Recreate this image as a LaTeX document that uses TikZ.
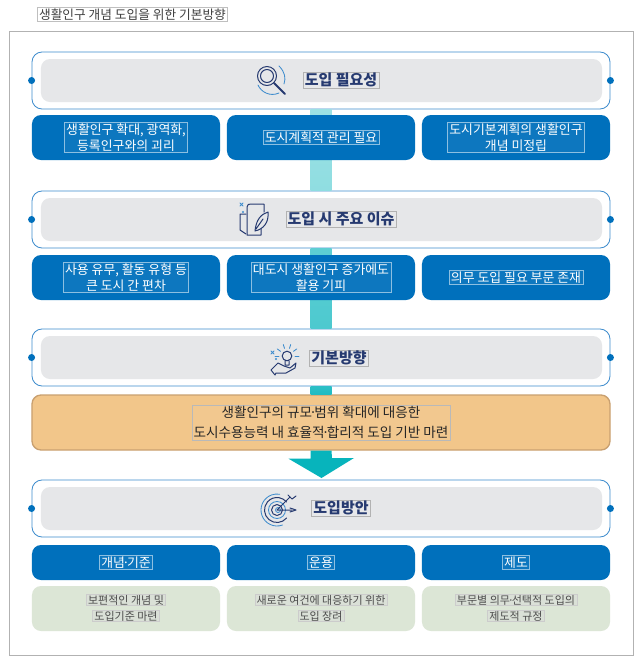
\documentclass[tikz,border=0pt]{standalone}
\usepackage{fontspec}
\setmainfont{Noto Sans CJK KR}
\usetikzlibrary{calc}
\definecolor{hanblue}{RGB}{0,112,188}
\definecolor{hanline}{RGB}{62,140,205}
\definecolor{hangray}{RGB}{230,231,233}
\definecolor{hannavy}{RGB}{38,58,112}
\definecolor{hanorange}{RGB}{242,198,138}
\definecolor{hanedge}{RGB}{201,160,112}
\definecolor{hangreen}{RGB}{220,230,214}
\definecolor{hanteal}{RGB}{7,180,188}
\newcommand{\middot}{\kern-0.2em·\kern-0.2em}
\tikzset{
    framebox/.style={draw=hanline, line width=0.25mm, fill=white, rounded corners=0.3cm,
        minimum width=17.34cm, minimum height=1.71cm, inner sep=0pt},
    headbox/.style={fill=hangray, rounded corners=0.27cm,
        minimum width=16.83cm, minimum height=1.29cm, inner sep=0pt},
    bluebox/.style={fill=hanblue, rounded corners=0.27cm,
        minimum width=5.64cm, minimum height=1.35cm, inner sep=0pt},
    lowbox/.style={bluebox, minimum height=1.05cm},
    greenbox/.style={bluebox, fill=hangreen},
    hl/.style={draw=#1, line width=0.12mm, fill=white, fill opacity=0.05, text opacity=1,
        inner xsep=1.5pt, inner ysep=1pt, align=center},
    headtext/.style={hl=gray!60, text=hannavy, font=\fontsize{12.8}{15}\selectfont\bfseries},
    bluetext/.style={hl=white!55!hanblue, text=white, font=\fontsize{11}{13.6}\selectfont},
    greentext/.style={hl=gray!40, fill=gray!30, fill opacity=0.4, text=black!70,
        inner ysep=0.5pt, font=\fontsize{9.4}{11}\selectfont},
    icon/.style={draw=hannavy, line width=0.3mm, line cap=round, line join=round},
    iconb/.style={draw=hanline, line width=0.25mm, line cap=round},
    dot/.style={circle, fill=hanblue, minimum size=0.21cm, inner sep=0pt},
}

\begin{document}
\begin{tikzpicture}[x=0.03cm, y=-0.03cm]
\useasboundingbox (0,0) rectangle (640,658);
\fill[white] (0,0) rectangle (640,658);
\draw[draw=gray!60, line width=0.3mm] (9.5,31.5) rectangle (633,655);
\node[hl=gray!50, text=black!75, font=\fontsize{10.85}{13}\selectfont] (title) at (132.5,14.5)
    {생활인구 개념 도입을 위한 기본방향};

% frames with their grey bands
\node[framebox] (needframe) at (321,80.5) {};
\node[framebox] (issueframe) at (321,219.5) {};
\node[framebox] (baseframe) at (321,357.5) {};
\node[framebox] (planframe) at (321,508.5) {};
\node[headbox] (need) at (321.5,80.5) {};
\node[headbox] (issue) at (321.5,219.5) {};
\node[headbox] (base) at (321.5,357.5) {};
\node[headbox] (plan) at (321.5,508.5) {};
\foreach \n in {need,issue,base,plan} {
    \node[dot] (\n l) at (\n frame.west) {};
    \node[dot] (\n r) at (\n frame.east) {};
}

% orange band
\node[draw=hanedge, line width=0.4mm, fill=hanorange, rounded corners=0.27cm,
    minimum width=17.34cm, minimum height=1.65cm, inner sep=0pt] (goal) at (321,422.5) {};

% teal bars between the frames
\shade[top color=hanteal!40, bottom color=hanteal!45]
    ($(needframe.south)+(-10.5,0)$) rectangle ($(issueframe.north)+(10.5,0)$);
\shade[top color=hanteal!65, bottom color=hanteal!72]
    ($(issueframe.south)+(-10.5,0)$) rectangle ($(baseframe.north)+(10.5,0)$);
\shade[top color=hanteal!85, bottom color=hanteal!90]
    ($(baseframe.south)+(-10.5,0)$) rectangle ($(goal.north)+(10.5,0)$);
\coordinate (tip) at (321.5,478);
\fill[hanteal] ($(goal.south)+(-10.5,0)$) -- ++(0,8) -- ++(-22,0) -- (tip)
    -- ++(32.5,-20) -- ++(-22,0) -- ($(goal.south)+(10.5,0)$) -- cycle;

% blue and green rows
\node[bluebox] (a1) at (126,137.5) {};
\node[bluebox] (a2) at (321,137.5) {};
\node[bluebox] (a3) at (516,137.5) {};
\node[bluebox] (b1) at (126,277.5) {};
\node[bluebox] (b2) at (321,277.5) {};
\node[bluebox] (b3) at (516,277.5) {};
\node[lowbox] (c1) at (126,562.5) {};
\node[lowbox] (c2) at (321,562.5) {};
\node[lowbox] (c3) at (516,562.5) {};
\node[greenbox] (d1) at (126,608.5) {};
\node[greenbox] (d2) at (321,608.5) {};
\node[greenbox] (d3) at (516,608.5) {};

% texts
\node[headtext] (needt) at (341,80) {도입 필요성};
\node[headtext] (issuet) at (341,219) {도입 시 주요 이슈};
\node[headtext] (baset) at (339,358) {기본방향};
\node[headtext] (plant) at (341,508) {도입방안};
\node[bluetext] at (a1) {생활인구 확대, 광역화,\\등록인구와의 괴리};
\node[bluetext] at (a2) {도시계획적 관리 필요};
\node[bluetext] at (a3) {도시기본계획의 생활인구\\개념 미정립};
\node[bluetext] at (b1) {사용 유무, 활동 유형 등\\큰 도시 간 편차};
\node[bluetext] at (b2) {대도시 생활인구 증가에도\\활용 기피};
\node[bluetext] at (b3) {의무 도입 필요 부문 존재};
\node[bluetext] at (c1) {개념\middot 기준};
\node[bluetext] at (c2) {운용};
\node[bluetext] at (c3) {제도};
\node[greentext] at (126,600) {보편적인 개념 및};
\node[greentext] at (126,616) {도입기준 마련};
\node[greentext] at (321,600) {새로운 여건에 대응하기 위한};
\node[greentext] at (321,616) {도입 장려};
\node[greentext] at (516,600) {부문별 의무\middot 선택적 도입의};
\node[greentext] at (516,616) {제도적 규정};
\node[hl=gray!55, text=black!85, font=\fontsize{11.6}{17.2}\selectfont] at (goal)
    {생활인구의 규모\middot 범위 확대에 대응한\\도시수용능력 내 효율적\middot 합리적 도입 기반 마련};

% magnifier
\draw[icon] (267,76) circle (9.5) (267,76) circle (6.5);
\draw[icon, line width=0.6mm] (274,83) -- (285,94);
\draw[iconb] (258,85) .. controls (261,92) and (270,97) .. (279,93);
\draw[iconb] (279,66) .. controls (285,72) and (286,78) .. (284,84);

% quill and scroll
\draw[icon] (247,235) -- (247,207) .. controls (247,204) and (249,204) .. (252,204)
    -- (264,204) -- (264,212) (247,235) -- (261,235) -- (261,229);
\draw[icon] (246,214) -- (240,214) -- (240,230) -- (246,234);
\draw[icon] (255,231) .. controls (256,220) and (261,214) .. (268,212)
    .. controls (269,222) and (264,229) .. (255,231) (256,229) -- (263,219);
\draw[iconb] (240,203) -- (243,206) (243,203) -- (240,206);
\fill[hanline] (243,212) circle (1.2);

% bulb on a hand
\draw[icon] (287,356) circle (4.8) (285,361) -- (285,365) -- (289,365) -- (289,361);
\foreach \a in {0,36,...,180} { \draw[iconb] ($(287,356)+({\a+180}:8)$) -- ($(287,356)+({\a+180}:12)$); }
\draw[iconb] (271,351) -- (274,354) (274,351) -- (271,354);
\fill[hanline] (276,359) circle (1.1);
\draw[icon] (271,370) -- (278,363) -- (284,366) -- (290,368) -- (296,363) -- (295,368)
    -- (286,373) -- (276,373) -- (275,375) -- cycle;

% target with darts
\draw[iconb] (278,510) circle (2.5);
\draw[icon] (277,510) circle (5.5);
\draw[iconb] (277,510) circle (8.5);
\draw[icon] (277,510) ++(40:12.5) arc (40:320:12.5);
\draw[iconb] (277,510) ++(70:16) arc (70:280:16);
\draw[icon] (277,510) -- (290,497) (277,510) -- (292,510);
\draw[icon] (288,495) -- (292,499) -- (296,496) (290,508) -- (296,510) -- (290,512);
\end{tikzpicture}
\end{document}
